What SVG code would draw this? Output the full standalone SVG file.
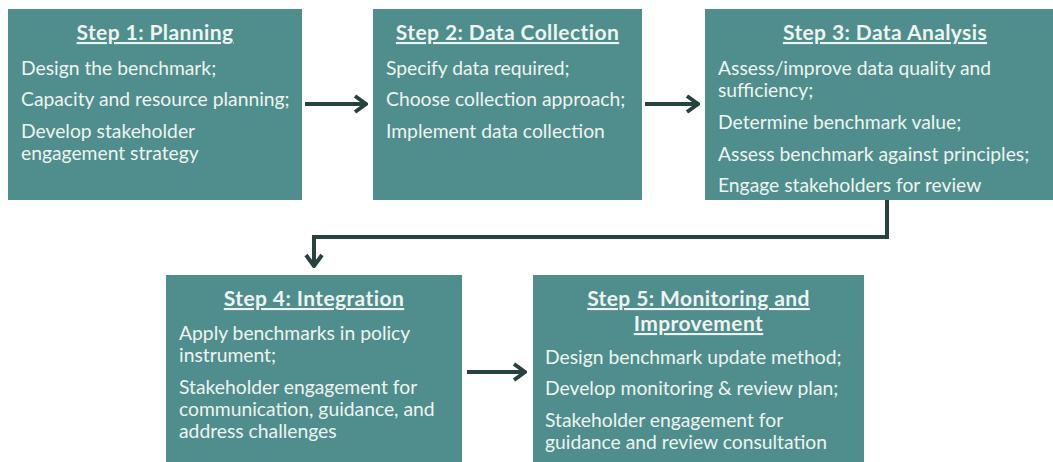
<svg xmlns="http://www.w3.org/2000/svg" width="1053" height="462" viewBox="0 0 1053 462">
<defs>
<style>
.box{fill:#4f8e8c}
.t{font-family:Lato,"Open Sans","Liberation Sans",sans-serif;font-size:19.3px;fill:#eef4f2}
.h{font-weight:bold;font-size:21px;letter-spacing:0.4px;text-anchor:middle;text-decoration:underline}
.c{fill:none;stroke:#27433f;stroke-width:4}
</style>
<marker id="ah" viewBox="-14 -11 16 22" markerWidth="16" markerHeight="22" refX="0" refY="0" orient="auto" markerUnits="userSpaceOnUse">
<path d="M-11,-8 L0,0 L-11,8" fill="none" stroke="#27433f" stroke-width="4"/>
</marker>
</defs>
<rect width="1053" height="462" fill="#ffffff"/>
<g id="connectors">
<path class="c" d="M305,104 H366" marker-end="url(#ah)"/>
<path class="c" d="M645,104 H698" marker-end="url(#ah)"/>
<path class="c" d="M887,200 V237 H314 V266" marker-end="url(#ah)"/>
<path class="c" d="M467,372 H525" marker-end="url(#ah)"/>
</g>
<g id="step1">
<rect class="box" x="8" y="9" width="294" height="191"/>
<text class="t h" x="155" y="40">Step 1: Planning</text>
<text class="t" x="21" y="75">Design the benchmark;</text>
<text class="t" x="21" y="106">Capacity and resource planning;</text>
<text class="t" x="21" y="138">Develop stakeholder</text>
<text class="t" x="21" y="160">engagement strategy</text>
</g>
<g id="step2">
<rect class="box" x="373" y="9" width="269" height="191"/>
<text class="t h" x="507.5" y="40">Step 2: Data Collection</text>
<text class="t" x="386" y="75">Specify data required;</text>
<text class="t" x="386" y="106">Choose collection approach;</text>
<text class="t" x="386" y="138">Implement data collection</text>
</g>
<g id="step3">
<rect class="box" x="705" y="9" width="360" height="191"/>
<text class="t h" x="885" y="40">Step 3: Data Analysis</text>
<text class="t" x="718" y="75">Assess/improve data quality and</text>
<text class="t" x="718" y="97">sufficiency;</text>
<text class="t" x="718" y="129">Determine benchmark value;</text>
<text class="t" x="718" y="161">Assess benchmark against principles;</text>
<text class="t" x="718" y="192">Engage stakeholders for review</text>
</g>
<g id="step4">
<rect class="box" x="166" y="275" width="296" height="190"/>
<text class="t h" x="314" y="306">Step 4: Integration</text>
<text class="t" x="179" y="340">Apply benchmarks in policy</text>
<text class="t" x="179" y="362">instrument;</text>
<text class="t" x="179" y="394">Stakeholder engagement for</text>
<text class="t" x="179" y="416">communication, guidance, and</text>
<text class="t" x="179" y="438">address challenges</text>
</g>
<g id="step5">
<rect class="box" x="533" y="275" width="331" height="190"/>
<text class="t h" x="698.5" y="306">Step 5: Monitoring and</text>
<text class="t h" x="698.5" y="331">Improvement</text>
<text class="t" x="545" y="364">Design benchmark update method;</text>
<text class="t" x="545" y="395">Develop monitoring &amp; review plan;</text>
<text class="t" x="545" y="427">Stakeholder engagement for</text>
<text class="t" x="545" y="449">guidance and review consultation</text>
</g>
</svg>
